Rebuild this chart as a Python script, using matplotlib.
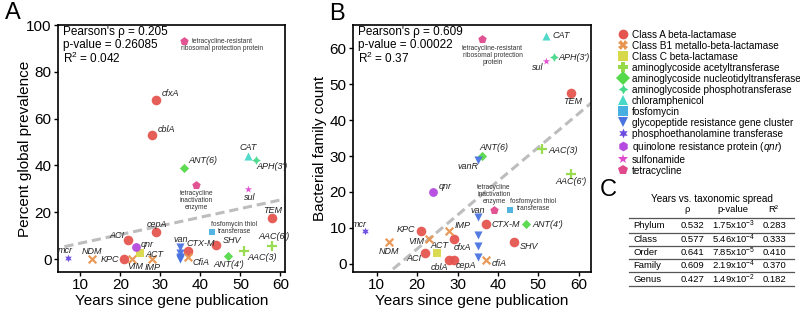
import matplotlib.pyplot as plt
import numpy as np
from matplotlib.lines import Line2D

plt.rcParams['font.family'] = ['Liberation Sans', 'DejaVu Sans']
plt.rcParams['mathtext.fontset'] = 'custom'
plt.rcParams['mathtext.rm'] = 'Liberation Sans'
plt.rcParams['mathtext.it'] = 'Liberation Sans:italic'

# ---- data ----
genes = ['mcr', 'NDM', 'KPC', 'VIM', 'ACI', 'qnr', 'ACT', 'IMP', 'cblA', 'cepA',
         'cfxA', 'van', 'vanR', 'van2', 'van3', 'van4', 'CTX-M', 'cfiA', 'ANT(6)',
         'tet_inact', 'fosfo', 'SHV', "ANT(4')", 'AAC(3)', "AAC(6')", 'TEM', 'CAT',
         "APH(3')", 'sul', 'tet_rpp']
gene_class = [9, 1, 0, 1, 0, 10, 2, 1, 0, 0,
              0, 8, 8, 8, 8, 8, 0, 1, 4,
              12, 7, 0, 4, 3, 3, 0, 6,
              5, 11, 12]
years = np.array([7, 13, 21, 23, 22, 24, 25, 28, 28, 29,
                  29, 35, 35, 35, 35, 35, 37, 37, 36,
                  39, 43, 44, 47, 51, 58, 58, 52,
                  54, 52, 36], float)
prevalence = np.array([0.5, 0, 0, 0, 8, 5, 2.5, 0, 53, 11.5,
                       68, 5, 1, 2.7, 0.5, 0, 3.5, 1, 39,
                       31.5, 11.5, 6, 1.3, 3.5, 5.7, 17.5, 44,
                       42.5, 30, 93])
families = np.array([9, 6, 9, 7, 3, 20, 3, 9, 1, 1,
                     7, 13, 29, 8, 5, 2, 11, 1, 30,
                     15, 15, 6, 11, 32, 25, 47.5, 63.5,
                     57.5, 56.5, 62.5])

classes = ['Class A beta-lactamase', 'Class B1 metallo-beta-lactamase',
           'Class C beta-lactamase', 'aminoglycoside acetyltransferase',
           'aminoglycoside nucleotidyltransferase', 'aminoglycoside phosphotransferase',
           'chloramphenicol', 'fosfomycin', 'glycopeptide resistance gene cluster',
           'phosphoethanolamine transferase', 'quinolone resistance protein ($\\it{qnr}$)',
           'sulfonamide', 'tetracycline']

stats_a = "Pearson's ρ = 0.205\np-value = 0.26085\nR$^2$ = 0.042"
stats_b = "Pearson's ρ = 0.609\np-value = 0.00022\nR$^2$ = 0.37"

table_title = 'Years vs. taxonomic spread'
table_head = ['ρ', 'p-value', 'R²']
table_rows = ['Phylum', 'Class', 'Order', 'Family', 'Genus']
table_rho = ['0.532', '0.577', '0.641', '0.609', '0.427']
table_p = ['1.75x10$^{-3}$', '5.46x10$^{-4}$', '7.85x10$^{-5}$', '2.19x10$^{-4}$', '1.49x10$^{-2}$']
table_r2 = ['0.283', '0.333', '0.410', '0.370', '0.182']

# ---- styles ----
colors = ['#E5554F', '#E8944F', '#D8D94A', '#95DA48', '#55D84A', '#48D88A', '#48D8C8',
          '#48B0E0', '#4A74E0', '#6A4AE0', '#B44AE0', '#E04ACD', '#E04A8C']
plot_markers = ['o', 'x', 's', '+', 'D', (4, 1, 0), '^', 's', 'v', (6, 1, 0), 'o', '*', 'p']
plot_sizes = [48, 30, 26, 55, 22, 40, 34, 14, 34, 30, 40, 30, 40]
leg_markers = ['o', 'X', 's', 'P', 'D', (4, 1, 0), '^', 's', 'v', (6, 1, 0), 'h', '*', 'p']

names = {'tet_inact': 'tetracycline\ninactivation\nenzyme',
         'fosfo': 'fosfomycin thiol\ntransferase'}
small = ['tet_inact', 'fosfo', 'tet_rpp']

# label offsets (pixels right, pixels up, alignment)
offs_a = {'mcr': (-3, 7, 'center'), 'NDM': (0, 8, 'center'), 'KPC': (-5, 0, 'right'),
          'VIM': (3, -7, 'center'), 'ACI': (-4, 5, 'right'), 'qnr': (4, 3, 'left'),
          'ACT': (5, -1, 'left'), 'IMP': (0, -8, 'center'), 'cblA': (5, 6, 'left'),
          'cepA': (1, 8, 'center'), 'cfxA': (5, 6, 'left'), 'van': (0, 8, 'center'),
          'CTX-M': (-2, 7, 'left'), 'cfiA': (4, -6, 'left'), 'ANT(6)': (4, 7, 'left'),
          'tet_inact': (0, -15, 'center'), 'fosfo': (22, 4, 'center'), 'SHV': (6, 5, 'left'),
          "ANT(4')": (0, -8, 'center'), 'AAC(3)': (3, -7, 'left'), "AAC(6')": (2, 9, 'center'),
          'TEM': (0, 8, 'center'), 'CAT': (0, 9, 'center'), "APH(3')": (0, -7, 'left'),
          'sul': (1, -9, 'center'), 'tet_rpp': (38, -3.5, 'center')}
offs_b = {'mcr': (-5, 7, 'center'), 'NDM': (0, -9, 'center'), 'KPC': (-6, 2, 'right'),
          'VIM': (-5, -3, 'right'), 'ACI': (-4, -6, 'right'), 'qnr': (5, 5, 'left'),
          'ACT': (2, 7, 'center'), 'IMP': (5, 6, 'left'), 'cblA': (-10, -7, 'center'),
          'cepA': (12, -5, 'center'), 'cfxA': (9, -9, 'center'), 'van': (0, 7, 'center'),
          'vanR': (-10, -7, 'center'), 'CTX-M': (6, 0, 'left'), 'cfiA': (6, -3, 'left'),
          'ANT(6)': (12, 9, 'center'), 'tet_inact': (0, 15, 'center'),
          'fosfo': (23, 4.5, 'center'), "ANT(4')": (6, 0, 'left'), 'SHV': (6, -4, 'left'),
          'AAC(3)': (6, -2, 'left'), "AAC(6')": (0, -8, 'center'), 'TEM': (2, -8, 'center'),
          'CAT': (6, 0, 'left'), "APH(3')": (4, 0, 'left'), 'sul': (-9, -7, 'center'),
          'tet_rpp': (11, -16, 'center')}


def panel(ax, y, offs, rpp_text, cfia_text, stats, xlim, ylim, yticks, ylabel, lpad):
    # regression line
    k, b = np.polyfit(years, y, 1)
    xx = np.linspace(years.min() - 1, 66, 50)
    ax.plot(xx, k * xx + b, color='#BDBDBD', lw=2.2, ls=(0, (3, 1.6)), zorder=1)
    cls = np.array(gene_class)
    for c in range(len(classes)):
        m = cls == c
        if not m.any():
            continue
        ax.scatter(years[m], y[m], marker=plot_markers[c], s=plot_sizes[c],
                   color=colors[c], lw=1.6 if plot_markers[c] in ('x', '+') else 0,
                   zorder=3, alpha=0.95)
    for i, g in enumerate(genes):
        if g not in offs:
            continue
        dx, dy, ha = offs[g]
        if g == 'tet_rpp':
            txt = rpp_text
        elif g == 'cfiA':
            txt = cfia_text
        else:
            txt = names.get(g, g)
        if g in small:
            kw = dict(fontsize=4.8, color='#333333', linespacing=1.0, ha='center')
        else:
            kw = dict(fontsize=6.5, style='italic', color='#222222', ha=ha)
        ax.annotate(txt, (years[i], y[i]), xytext=(dx * 0.72, dy * 0.72),
                    textcoords='offset points', va='center', annotation_clip=False,
                    zorder=4, **kw)
    ax.text(0.022, 0.995, stats, transform=ax.transAxes, fontsize=8.5, va='top',
            ha='left', linespacing=1.05)
    ax.set_xlim(*xlim)
    ax.set_ylim(*ylim)
    ax.set_xticks([10, 20, 30, 40, 50, 60])
    ax.set_yticks(yticks)
    ax.tick_params(labelsize=11, length=3, width=1, pad=1.5)
    for s in ax.spines.values():
        s.set_linewidth(1.2)
    ax.set_xlabel('Years since gene publication', fontsize=11, labelpad=1)
    ax.set_ylabel(ylabel, fontsize=11, labelpad=lpad)


fig = plt.figure(figsize=(8, 3.11), dpi=100)
ax_a = fig.add_axes([0.0725, 0.1254, 0.284, 0.7942])
ax_b = fig.add_axes([0.441, 0.1254, 0.2975, 0.7942])

panel(ax_a, prevalence, offs_a, 'tetracycline-resistant\nribosomal protection protein', 'CfiA',
      stats_a, (4.4, 61.2), (-5.5, 100), [0, 20, 40, 60, 80, 100], 'Percent global prevalence', -4)
panel(ax_b, families, offs_b, 'tetracycline-resistant\nribosomal protection\nprotein', 'cfiA',
      stats_b, (4.06, 63.0), (-2.3, 66.5), [0, 10, 20, 30, 40, 50, 60], 'Bacterial family count', 2)

fig.text(13 / 800, 1 - 13 / 311, 'A', fontsize=17, ha='center', va='center')
fig.text(337 / 800, 1 - 14 / 311, 'B', fontsize=17, ha='center', va='center')
fig.text(608 / 800, 1 - 190 / 311, 'C', fontsize=17, ha='center', va='center')

# legend
handles = [Line2D([], [], ls='none', marker=leg_markers[c], color=colors[c], mec=colors[c],
                  markersize=7, mew=0) for c in range(len(classes))]
fig.legend(handles, classes, loc='upper left', bbox_to_anchor=(0.772, 0.905),
           frameon=False, fontsize=7.2, handlelength=1.0, handletextpad=0.4,
           borderpad=0, borderaxespad=0, labelspacing=0.1)

# table C
def fy(py):
    return 1 - py / 311

fig.text(711.7 / 800, fy(199), table_title, fontsize=7.2, ha='center', va='center')
for x, h in zip([687.3, 733.3, 773.3], table_head):
    fig.text(x / 800, fy(209), h, fontsize=6.8, ha='center', va='center')
row_y = [225.7, 239.3, 252.3, 265.7, 279]
for i, y in enumerate(row_y):
    fig.text(633.3 / 800, fy(y), table_rows[i], fontsize=6.8, ha='left', va='center')
    fig.text(692.7 / 800, fy(y), table_rho[i], fontsize=6.8, ha='center', va='center')
    fig.text(733.3 / 800, fy(y), table_p[i], fontsize=6.8, ha='center', va='center')
    fig.text(774.3 / 800, fy(y), table_r2[i], fontsize=6.8, ha='center', va='center')
for y in [218.3, 232.7, 245.7, 259, 272.3, 285.7]:
    fig.add_artist(Line2D([629.3 / 800, 794 / 800], [fy(y), fy(y)], color='#555555',
                          lw=0.9, transform=fig.transFigure))

fig.savefig('out.png', dpi=100)
